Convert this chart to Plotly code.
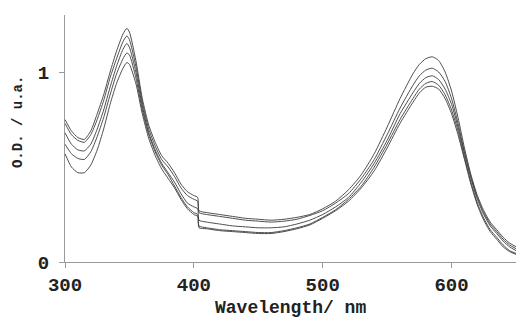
import plotly.graph_objects as go

# Wavelength grid (nm); 403/404 bracket the lamp-change step
wavelength = [300, 305, 310, 315, 320, 325, 330, 335, 340, 345, 348, 350, 355, 360, 365, 370,
              375, 380, 385, 390, 395, 400, 403, 404, 410, 420, 430, 440, 450, 460, 470, 480,
              490, 500, 510, 520, 530, 540, 550, 560, 570, 575, 580, 585, 590, 595, 600, 605,
              610, 615, 620, 625, 630, 635, 640, 645, 650]

od_a = [0.75, 0.69, 0.655, 0.645, 0.69, 0.78, 0.88, 1.00, 1.11, 1.20, 1.23, 1.21, 1.06, 0.86, 0.72, 0.63,
        0.56, 0.52, 0.47, 0.41, 0.37, 0.35, 0.34, 0.27, 0.26, 0.25, 0.24, 0.23, 0.225, 0.22, 0.225, 0.235,
        0.25, 0.28, 0.32, 0.38, 0.46, 0.57, 0.71, 0.86, 0.99, 1.04, 1.07, 1.08, 1.06, 1.00, 0.90, 0.76,
        0.60, 0.46, 0.35, 0.27, 0.21, 0.17, 0.13, 0.10, 0.08]

od_b = [0.73, 0.67, 0.64, 0.63, 0.67, 0.75, 0.85, 0.97, 1.07, 1.16, 1.19, 1.17, 1.03, 0.84, 0.70, 0.61,
        0.54, 0.50, 0.45, 0.39, 0.35, 0.33, 0.32, 0.26, 0.25, 0.24, 0.23, 0.22, 0.215, 0.21, 0.215, 0.225,
        0.245, 0.27, 0.31, 0.36, 0.44, 0.54, 0.67, 0.81, 0.93, 0.98, 1.01, 1.02, 1.00, 0.95, 0.86, 0.73,
        0.58, 0.45, 0.34, 0.26, 0.20, 0.16, 0.12, 0.09, 0.07]

od_c = [0.68, 0.62, 0.59, 0.585, 0.62, 0.70, 0.80, 0.92, 1.03, 1.12, 1.15, 1.13, 1.00, 0.82, 0.68, 0.59,
        0.52, 0.47, 0.42, 0.36, 0.31, 0.29, 0.28, 0.22, 0.21, 0.20, 0.19, 0.185, 0.18, 0.18, 0.185, 0.20,
        0.22, 0.25, 0.29, 0.34, 0.42, 0.52, 0.64, 0.78, 0.89, 0.94, 0.97, 0.98, 0.96, 0.91, 0.83, 0.71,
        0.57, 0.44, 0.33, 0.25, 0.19, 0.15, 0.11, 0.08, 0.06]

od_d = [0.62, 0.57, 0.545, 0.54, 0.58, 0.66, 0.76, 0.88, 0.99, 1.07, 1.10, 1.09, 0.97, 0.80, 0.67, 0.58,
        0.51, 0.46, 0.40, 0.34, 0.29, 0.26, 0.25, 0.19, 0.18, 0.17, 0.165, 0.16, 0.155, 0.155, 0.165, 0.18,
        0.20, 0.235, 0.275, 0.33, 0.40, 0.50, 0.62, 0.75, 0.86, 0.91, 0.94, 0.95, 0.93, 0.88, 0.80, 0.69,
        0.55, 0.42, 0.31, 0.23, 0.17, 0.13, 0.09, 0.06, 0.045]

od_e = [0.57, 0.50, 0.47, 0.47, 0.51, 0.59, 0.70, 0.83, 0.94, 1.02, 1.05, 1.04, 0.94, 0.78, 0.65, 0.56,
        0.49, 0.44, 0.39, 0.33, 0.28, 0.25, 0.24, 0.18, 0.175, 0.165, 0.16, 0.155, 0.15, 0.15, 0.16, 0.175,
        0.195, 0.23, 0.27, 0.32, 0.39, 0.48, 0.60, 0.73, 0.84, 0.89, 0.92, 0.925, 0.91, 0.86, 0.78, 0.67,
        0.54, 0.41, 0.30, 0.22, 0.16, 0.12, 0.08, 0.055, 0.04]

x_ticks = [300, 400, 500, 600]
y_ticks = [0, 1]

MONO = "Liberation Mono"
LINE = "#3a3a3a"
AXIS = "#9a9a9a"

fig = go.Figure()
for series in (od_a, od_b, od_c, od_d, od_e):
    fig.add_trace(go.Scatter(
        x=wavelength, y=series, mode="lines",
        line=dict(color=LINE, width=0.9, shape="spline", smoothing=0.6),
        showlegend=False, hoverinfo="skip",
    ))

fig.update_layout(
    width=516, height=320,
    margin=dict(l=65, r=0, t=15, b=58),
    paper_bgcolor="white", plot_bgcolor="white",
    font=dict(family=MONO, size=19, color="#222"),
)
fig.update_xaxes(
    range=[300, 650], tickvals=x_ticks, ticktext=[str(v) for v in x_ticks],
    showgrid=False, zeroline=False, showline=True, linecolor=AXIS, linewidth=1,
    ticks="outside", ticklen=5, tickcolor=AXIS, tickwidth=1,
    tickfont=dict(family=MONO, size=19, color="#222", weight="bold"),
)
fig.update_yaxes(
    range=[0, 1.3], tickvals=y_ticks, ticktext=[str(v) for v in y_ticks],
    showgrid=False, zeroline=False, showline=True, linecolor=AXIS, linewidth=1,
    ticks="outside", ticklen=5, tickcolor=AXIS, tickwidth=1, ticklabelstandoff=6,
    tickfont=dict(family=MONO, size=19, color="#222", weight="bold"),
)

fig.add_annotation(
    text="<b>Wavelength/ nm</b>", xref="paper", yref="paper", x=0.499, y=-0.185,
    xanchor="center", yanchor="middle", showarrow=False,
    font=dict(family=MONO, size=18, color="#222"),
)
fig.add_annotation(
    text="<b>O.D. / u.a.</b>", xref="paper", yref="paper", x=-0.104, y=0.567,
    xanchor="center", yanchor="middle", textangle=-90, showarrow=False,
    font=dict(family=MONO, size=14, color="#222"),
)

fig.write_html("out.html")
